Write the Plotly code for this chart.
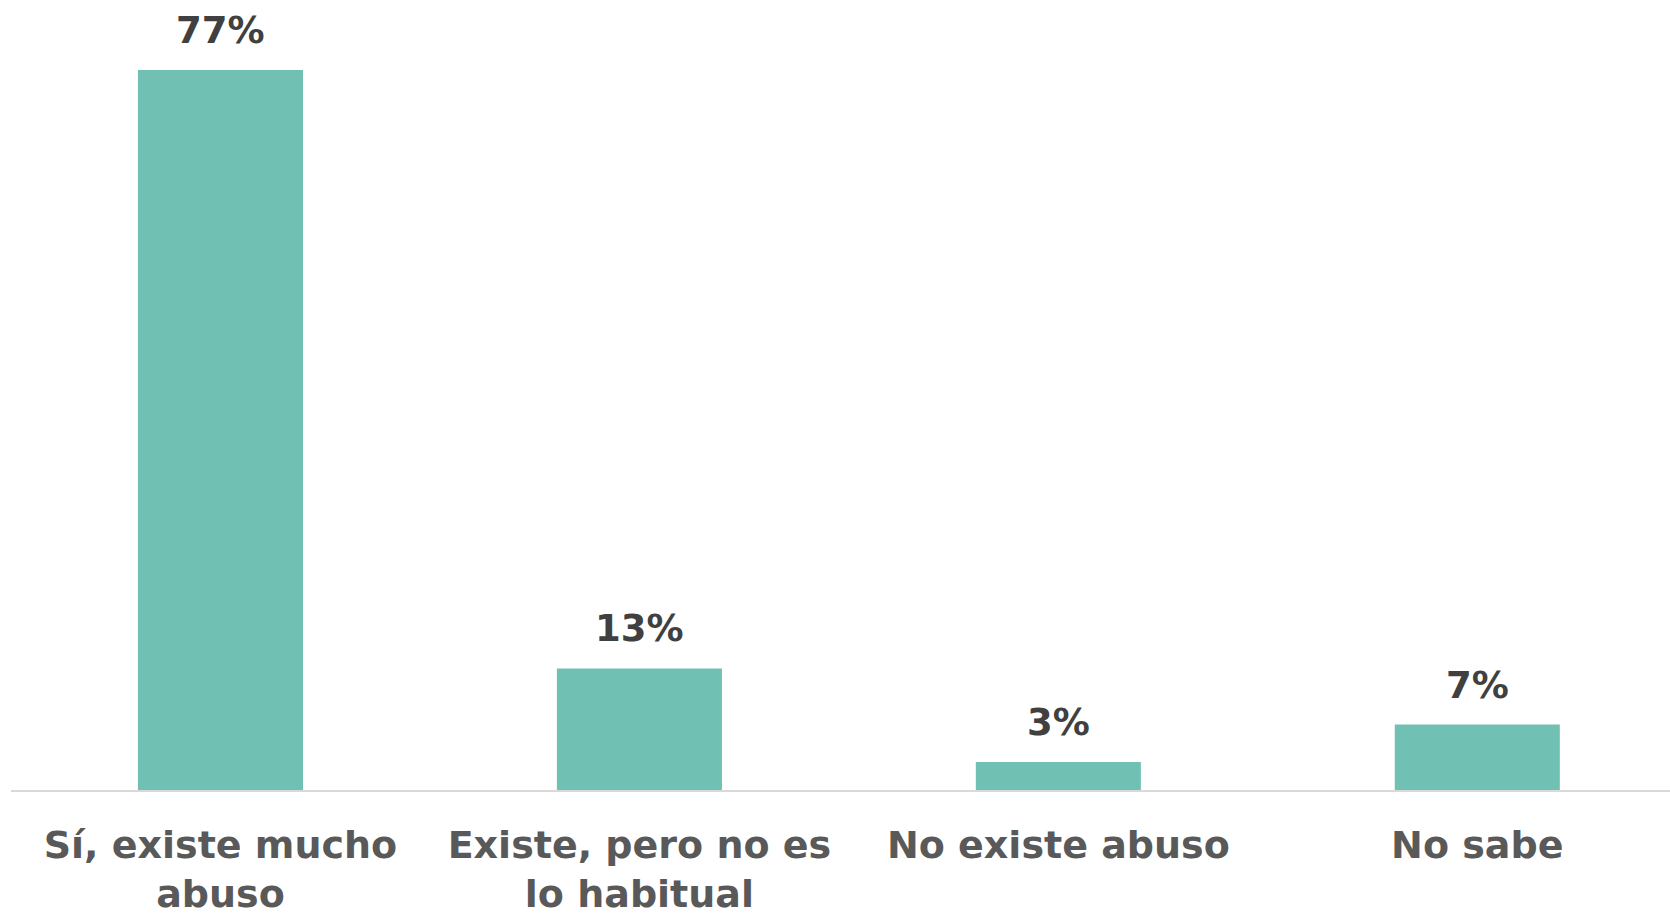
import plotly.graph_objects as go

categories = ["Sí, existe mucho abuso", "Existe, pero no es lo habitual", "No existe abuso", "No sabe"]
tick_labels = ["Sí, existe mucho<br>abuso", "Existe, pero no es<br>lo habitual", "No existe abuso", "No sabe"]
values = [77, 13, 3, 7]
value_labels = ["77%", "13%", "3%", "7%"]

FONT = "DejaVu Sans"
fig = go.Figure()
fig.add_trace(go.Bar(
    x=categories, y=values,
    marker=dict(color="#70c1b3", line=dict(width=0)),
    hoverinfo="skip",
))
for c, v, t in zip(categories, values, value_labels):
    fig.add_annotation(x=c, y=v, text=f"<b>{t}</b>", showarrow=False,
                       yanchor="bottom", yshift=16,
                       font=dict(family=FONT, size=37, color="#404040"))

fig.update_layout(
    width=1670, height=916,
    margin=dict(l=11, r=0, t=0, b=126),
    paper_bgcolor="white", plot_bgcolor="white",
    bargap=0.606,
    showlegend=False,
)
fig.update_xaxes(
    tickmode="array", tickvals=categories,
    ticktext=[f"<b>{t}</b>" for t in tick_labels],
    tickfont=dict(family=FONT, size=38, color="#595959"),
    showline=True, linecolor="#d9d9d9", linewidth=2,
    ticks="", ticklabelstandoff=20,
    range=[-0.5, 3.46],
    showgrid=False, automargin=False,
)
fig.update_yaxes(range=[0, 84.5], visible=False, showgrid=False, zeroline=False, automargin=False)

fig.write_html("out.html", config={"displayModeBar": False},
               post_script="document.body.style.margin='0';document.body.style.overflow='hidden';")
